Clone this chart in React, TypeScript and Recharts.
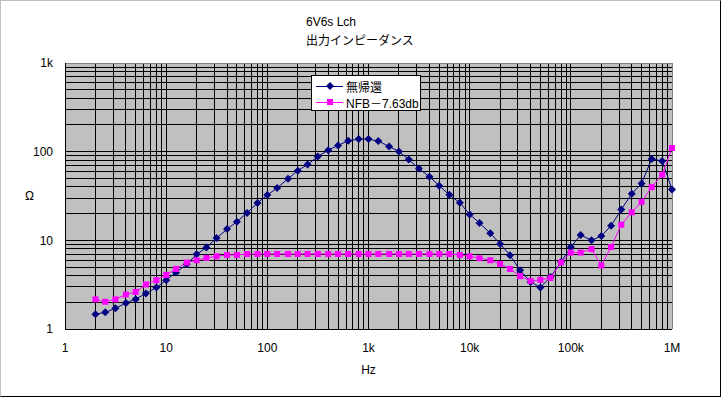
import { LineChart, Line, XAxis, YAxis, CartesianGrid, Legend, ReferenceLine } from "recharts";

const FONT = '"Liberation Sans", "Noto Sans CJK JP", sans-serif';

const titleLines = ["6V6s Lch", "出力インピーダンス"];
const seriesNames = ["無帰還", "NFB－7.63db"];

// Hz
const freqs = [
  2, 2.5, 3.15, 4, 5, 6.3, 8,
  10, 12.5, 16, 20, 25, 31.5, 40, 50, 63, 80,
  100, 125, 160, 200, 250, 315, 400, 500, 630, 800,
  1000, 1250, 1600, 2000, 2500, 3150, 4000, 5000, 6300, 8000,
  10000, 12500, 16000, 20000, 25000, 31500, 40000, 50000, 63000, 80000,
  100000, 125000, 160000, 200000, 250000, 315000, 400000, 500000, 630000, 800000,
  1000000,
];

// Ω, no feedback
const openLoop = [
  1.47, 1.54, 1.71, 1.96, 2.17, 2.52, 2.94,
  3.55, 4.34, 5.37, 6.96, 8.28, 10.6, 13.4, 16.2, 20.4, 26.4,
  32.5, 38.8, 49.6, 61.1, 71.6, 88.2, 104, 117.6, 132.7, 138.7,
  138.7, 131.6, 114.5, 100.5, 81.4, 64.4, 52.2, 41.3, 32.6, 26.5,
  19.6, 15.7, 12.0, 9.12, 6.8, 4.6, 3.4, 2.94, 3.87, 5.7,
  8.4, 11.5, 10.0, 11.2, 14.6, 22.2, 33.5, 43.8, 82.8, 78.5,
  37.5,
];

// Ω, NFB -7.63dB
const withNfb = [
  2.16, 2.03, 2.16, 2.45, 2.62, 3.18, 3.55,
  4.07, 4.76, 5.62, 5.96, 6.33, 6.61, 6.84, 6.84, 7.02, 7.02,
  7.02, 7.02, 7.02, 7.02, 7.02, 7.02, 7.02, 7.02, 7.02, 7.02,
  7.02, 7.02, 7.02, 7.02, 7.02, 7.02, 7.02, 7.02, 7.02, 6.84,
  6.61, 6.28, 5.96, 5.42, 4.76, 3.94, 3.49, 3.58, 3.77, 5.62,
  7.28, 7.28, 7.98, 5.2, 8.4, 15, 20.7, 27.2, 39.8, 55.1,
  110,
];

const xMajor = [1, 10, 100, 1000, 10000, 100000, 1000000];
const xLabels = ["1", "10", "100", "1k", "10k", "100k", "1M"];
const yMajor = [1, 10, 100, 1000];
const yLabels = ["1", "10", "100", "1k"];
const minorSteps = [1, 2, 3, 4, 5, 6, 7, 8, 9];

const withMinors = (majors: number[]) => {
  const out: number[] = [];
  majors.slice(0, -1).forEach((m) => minorSteps.forEach((s) => out.push(m * s)));
  out.push(majors[majors.length - 1]);
  return out;
};

const xTicks = withMinors(xMajor);
const yTicks = withMinors(yMajor);

const data = freqs.map((f, i) => ({ f, a: openLoop[i], b: withNfb[i] }));

const NAVY = "#000080";
const PINK = "#ff00ff";

const Diamond = (props: any) => {
  const { cx, cy, index } = props;
  if (cx == null || cy == null) return <g key={index} />;
  const r = 4;
  return (
    <polygon
      key={index}
      points={`${cx},${cy - r} ${cx + r},${cy} ${cx},${cy + r} ${cx - r},${cy}`}
      fill={NAVY}
    />
  );
};

const Square = (props: any) => {
  const { cx, cy, index } = props;
  if (cx == null || cy == null) return <g key={index} />;
  return <rect key={index} x={cx - 3} y={cy - 3} width={6} height={6} fill={PINK} />;
};

function LegendBox() {
  const rows = [
    { name: seriesNames[0], color: NAVY, mark: "d" },
    { name: seriesNames[1], color: PINK, mark: "s" },
  ];
  return (
    <div
      style={{
        boxSizing: "border-box",
        width: 110,
        height: 36,
        border: "1px solid #000",
        background: "#fff",
        fontFamily: FONT,
        fontSize: 12,
        paddingTop: 2,
      }}
    >
      {rows.map((r) => (
        <div key={r.name} style={{ display: "flex", alignItems: "center", height: 16 }}>
          <svg width={34} height={16} style={{ flex: "none" }}>
            <line x1={4} y1={8} x2={31} y2={8} stroke={r.color} strokeWidth={1} />
            {r.mark === "d" ? (
              <polygon points="18,4 22,8 18,12 14,8" fill={r.color} />
            ) : (
              <rect x={15} y={5} width={6} height={6} fill={r.color} />
            )}
          </svg>
          <span style={{ whiteSpace: "nowrap", color: "#000" }}>{r.name}</span>
        </div>
      ))}
    </div>
  );
}

export default function App() {
  const xFmt = (v: number) => {
    const i = xMajor.indexOf(v);
    return i >= 0 ? xLabels[i] : "";
  };
  const yFmt = (v: number) => {
    const i = yMajor.indexOf(v);
    return i >= 0 ? yLabels[i] : "";
  };

  return (
    <div style={{ position: "absolute", left: 0, top: 0, width: 721, height: 397, background: "#fff" }}>
      <style>{"svg line { shape-rendering: crispEdges; }"}</style>
      <div
        style={{
          position: "absolute",
          left: 306,
          top: 13,
          fontFamily: FONT,
          fontSize: 12,
          lineHeight: "19px",
          color: "#000",
          whiteSpace: "nowrap",
        }}
      >
        <div>{titleLines[0]}</div>
        <div>{titleLines[1]}</div>
      </div>
      <LineChart
        width={721}
        height={397}
        data={data}
        margin={{ top: 63, right: 49, bottom: 20, left: 0 }}
      >
        <CartesianGrid stroke="#000" fill="#c0c0c0" fillOpacity={1} />
        <XAxis
          dataKey="f"
          type="number"
          scale="log"
          domain={[1, 1000000]}
          ticks={xTicks}
          interval={0}
          tickFormatter={xFmt}
          tickLine={false}
          tickMargin={8}
          height={48}
          axisLine={{ stroke: "#000" }}
          tick={{ fill: "#000", fontSize: 12, fontFamily: FONT }}
          label={{ value: "Hz", position: "insideBottom", offset: 3, fill: "#000", fontSize: 12, fontFamily: FONT }}
        />
        <YAxis
          type="number"
          scale="log"
          domain={[1, 1000]}
          ticks={yTicks}
          interval={0}
          tickFormatter={yFmt}
          tickLine={false}
          tickMargin={6}
          width={65}
          axisLine={{ stroke: "#000" }}
          tick={{ fill: "#000", fontSize: 12, fontFamily: FONT }}
          label={{ value: "Ω", position: "insideLeft", offset: 25, fill: "#000", fontSize: 12, fontFamily: FONT }}
        />
        <ReferenceLine y={1000} stroke="#808080" />
        <ReferenceLine x={1000000} stroke="#808080" />
        <Line
          dataKey="a"
          name={seriesNames[0]}
          stroke={NAVY}
          strokeWidth={1}
          dot={Diamond}
          activeDot={false}
          isAnimationActive={false}
        />
        <Line
          dataKey="b"
          name={seriesNames[1]}
          stroke={PINK}
          strokeWidth={1}
          dot={Square}
          activeDot={false}
          isAnimationActive={false}
        />
        <Legend
          layout="horizontal"
          verticalAlign="middle"
          align="center"
          content={() => <LegendBox />}
          wrapperStyle={{ left: 311, top: 75, width: 110, height: 36 }}
        />
      </LineChart>
      <div
        style={{
          position: "absolute",
          left: 0,
          top: 0,
          width: 721,
          height: 397,
          boxSizing: "border-box",
          borderTop: "1px solid #c0c0c0",
          borderLeft: "1px solid #c0c0c0",
          borderRight: "1px solid #000",
          borderBottom: "1px solid #000",
          pointerEvents: "none",
        }}
      />
    </div>
  );
}
